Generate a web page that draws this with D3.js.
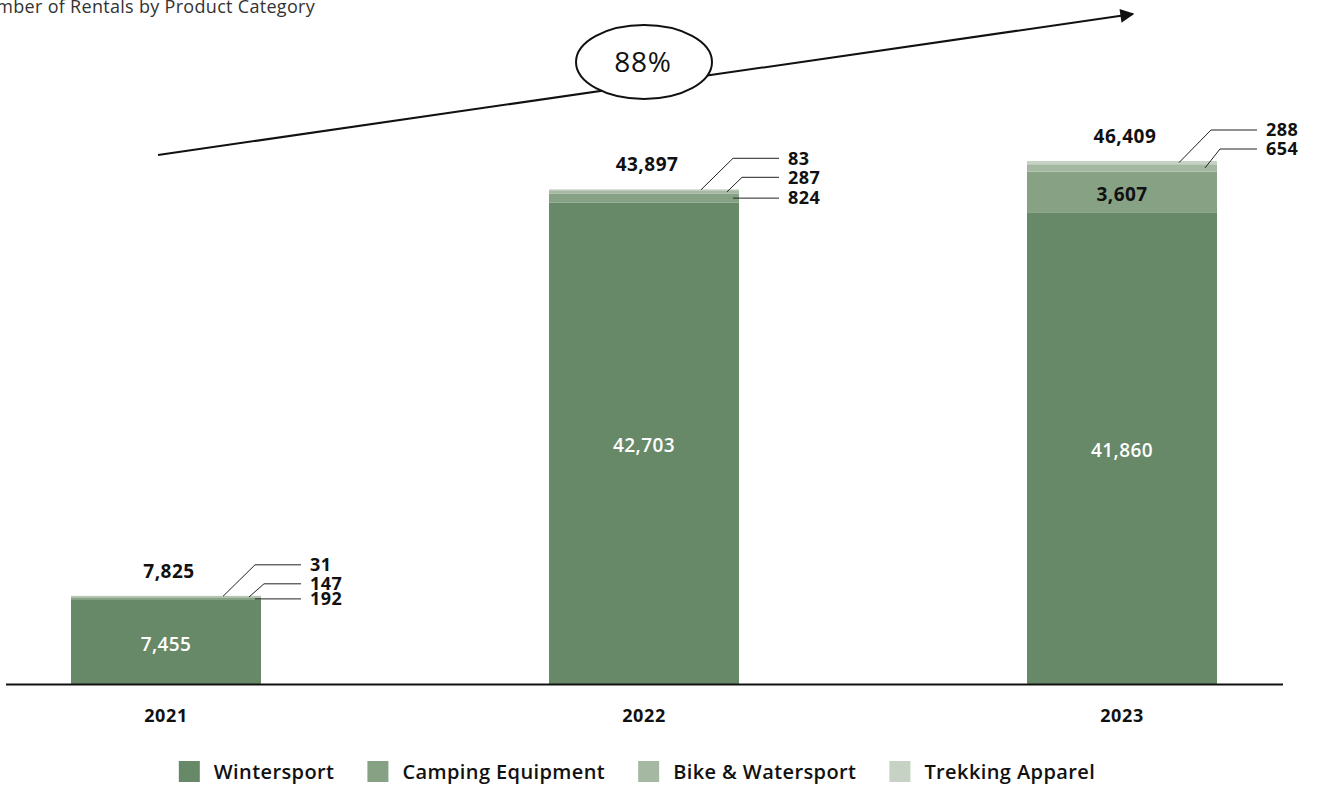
<!DOCTYPE html>
<html>
<head>
<meta charset="utf-8">
<script src="https://cdn.jsdelivr.net/npm/d3@7"></script>
<style>
  body { margin: 0; background: #fff; }
  svg { display: block; font-family: "Open Sans", Lato, sans-serif; }
</style>
</head>
<body>
<div id="chart"></div>
<script>
// chart data
var years = ["2021", "2022", "2023"];
var categories = ["Wintersport", "Camping Equipment", "Bike & Watersport", "Trekking Apparel"];
var wintersport = [7455, 42703, 41860];
var camping = [192, 824, 3607];
var bikeWater = [147, 287, 654];
var trekking = [31, 83, 288];
var growthLabel = "88%";
var title = "Number of Rentals by Product Category";

var colors = ["#678968", "#87a185", "#a4b8a2", "#c5d2c4"];

var width = 1317, height = 789,
    baseY = 684;

var rows = years.map(function(y, i) {
  return {
    year: y,
    "Wintersport": wintersport[i],
    "Camping Equipment": camping[i],
    "Bike & Watersport": bikeWater[i],
    "Trekking Apparel": trekking[i]
  };
});
var totals = rows.map(function(r) {
  return d3.sum(categories, function(c) { return r[c]; });
});

var svg = d3.select('#chart').append('svg')
    .attr('width', width)
    .attr('height', height);

var xScale = d3.scaleBand()
    .domain(years)
    .range([71, 1217])
    .paddingInner(0.6025)
    .paddingOuter(0);

var yScale = d3.scaleLinear()
    .domain([0, d3.max(totals)])
    .range([baseY, 161]);

var color = d3.scaleOrdinal().domain(categories).range(colors);

var stacked = d3.stack().keys(categories)(rows);

// title (cut off at the left edge, like the source)
svg.append('text')
    .attr('x', 315)
    .attr('y', 13)
    .attr('text-anchor', 'end')
    .style('font-size', '18px')
    .style('letter-spacing', '0.3px')
    .style('fill', '#333')
    .text(title);

// bars
svg.append('g').selectAll('g').data(stacked)
  .enter().append('g')
    .attr('fill', function(d) { return color(d.key); })
  .selectAll('rect').data(function(d) { return d; })
  .enter().append('rect')
    .attr('x', function(d) { return xScale(d.data.year); })
    .attr('width', xScale.bandwidth())
    .attr('y', function(d) { return yScale(d[1]); })
    .attr('height', function(d) { return yScale(d[0]) - yScale(d[1]); });

// baseline
svg.append('line')
    .attr('x1', 6).attr('x2', 1283)
    .attr('y1', baseY + 0.5).attr('y2', baseY + 0.5)
    .attr('stroke', '#111')
    .attr('stroke-width', 2);

// year labels
var xAxis = d3.axisBottom(xScale).tickSize(0).tickPadding(25);
var axisG = svg.append('g').attr('transform', 'translate(0,' + baseY + ')').call(xAxis);
axisG.select('.domain').remove();
axisG.selectAll('text')
    .style('font-size', '18px')
    .style('font-weight', 'bold')
    .style('letter-spacing', '0.6px')
    .style('font-family', '"Open Sans", sans-serif')
    .attr('fill', '#111');

// segment labels
var labels = svg.append('g');
years.forEach(function(year, yi) {
  var x0 = xScale(year),
      right = x0 + xScale.bandwidth(),
      cx = x0 + xScale.bandwidth() / 2,
      top = yScale(totals[yi]);

  // total above bar
  labels.append('text')
      .attr('x', cx + 3)
      .attr('y', top - 18)
      .attr('text-anchor', 'middle')
      .style('font-size', '19px')
      .style('font-weight', 'bold')
      .style('letter-spacing', '0.5px')
      .attr('fill', '#111')
      .text(d3.format(',')(totals[yi]));

  var outside = [];
  stacked.forEach(function(layer, li) {
    var seg = layer[yi],
        h = yScale(seg[0]) - yScale(seg[1]),
        mid = (yScale(seg[0]) + yScale(seg[1])) / 2,
        val = seg[1] - seg[0];
    if (h > 20) {
      labels.append('text')
          .attr('x', cx)
          .attr('y', mid + 2)
          .attr('dy', '0.35em')
          .attr('text-anchor', 'middle')
          .style('font-size', '19px')
          .style('font-weight', li === 0 ? '600' : 'bold')
          .style('letter-spacing', '0.4px')
          .attr('fill', li === 0 ? '#fff' : '#111')
          .text(d3.format(',')(val));
    } else {
      outside.push({ val: val, mid: mid });
    }
  });

  // small segments: labels to the right with leader lines, top-down
  outside.reverse();
  var anchorOff = [-38, -12, -6], elbowOff = [-6, 3, 3];
  outside.forEach(function(o, i) {
    var ly = top - 31 + i * 19,
        ax = right + anchorOff[i],
        ay = Math.max(o.mid, top + 0.5),
        path;
    if (Math.abs(ly - ay) < 6) {
      ly = ay;
      path = [[right - 6, ly], [right + 40, ly]];
    } else {
      path = [[ax, ay], [right + elbowOff[i], ly], [right + 40, ly]];
    }
    labels.append('path')
        .attr('d', d3.line()(path))
        .attr('fill', 'none')
        .attr('stroke', '#222')
        .attr('stroke-width', 1);
    labels.append('text')
        .attr('x', right + 49)
        .attr('y', ly)
        .attr('dy', '0.35em')
        .style('font-size', '18px')
        .style('font-weight', 'bold')
        .style('letter-spacing', '0.5px')
        .attr('fill', '#111')
        .text(d3.format(',')(o.val));
  });
});

// growth arrow
var defs = svg.append('defs');
defs.append('marker')
    .attr('id', 'arrow')
    .attr('viewBox', '0 0 10 10')
    .attr('refX', 9).attr('refY', 5)
    .attr('markerWidth', 22).attr('markerHeight', 14)
    .attr('markerUnits', 'userSpaceOnUse')
    .attr('orient', 'auto')
  .append('path')
    .attr('d', 'M0,0 L10,5 L0,10 Z')
    .attr('fill', '#111');

var ax1 = xScale(years[0]) + xScale.bandwidth() / 2 - 8,
    ax2 = xScale(years[2]) + xScale.bandwidth() / 2 + 11;
svg.append('line')
    .attr('x1', ax1).attr('y1', 155)
    .attr('x2', ax2).attr('y2', 14)
    .attr('stroke', '#111')
    .attr('stroke-width', 2)
    .attr('marker-end', 'url(#arrow)');

svg.append('ellipse')
    .attr('cx', 644).attr('cy', 62)
    .attr('rx', 68).attr('ry', 37)
    .attr('fill', '#fff')
    .attr('stroke', '#111')
    .attr('stroke-width', 2);

svg.append('text')
    .attr('x', 643).attr('y', 62)
    .attr('dy', '0.35em')
    .attr('text-anchor', 'middle')
    .style('font-size', '28px')
    .style('letter-spacing', '0.8px')
    .attr('fill', '#111')
    .text(growthLabel);

// legend
var legend = svg.append('g').attr('transform', 'translate(0,761)');
var lx = 0;
var items = legend.selectAll('g').data(categories).enter().append('g');
items.append('rect')
    .attr('width', 21).attr('height', 21)
    .attr('fill', function(d) { return color(d); });
items.append('text')
    .attr('x', 35)
    .attr('y', 11)
    .attr('dy', '0.35em')
    .style('font-size', '20px')
    .style('font-weight', '600')
    .style('letter-spacing', '0.4px')
    .attr('fill', '#111')
    .text(function(d) { return d; });
items.each(function() {
  var g = d3.select(this);
  g.attr('transform', 'translate(' + lx + ',0)');
  lx += 35 + g.select('text').node().getComputedTextLength() + 33;
});
lx -= 33;
legend.attr('transform', 'translate(' + (637 - lx / 2) + ',761)');
</script>
</body>
</html>
